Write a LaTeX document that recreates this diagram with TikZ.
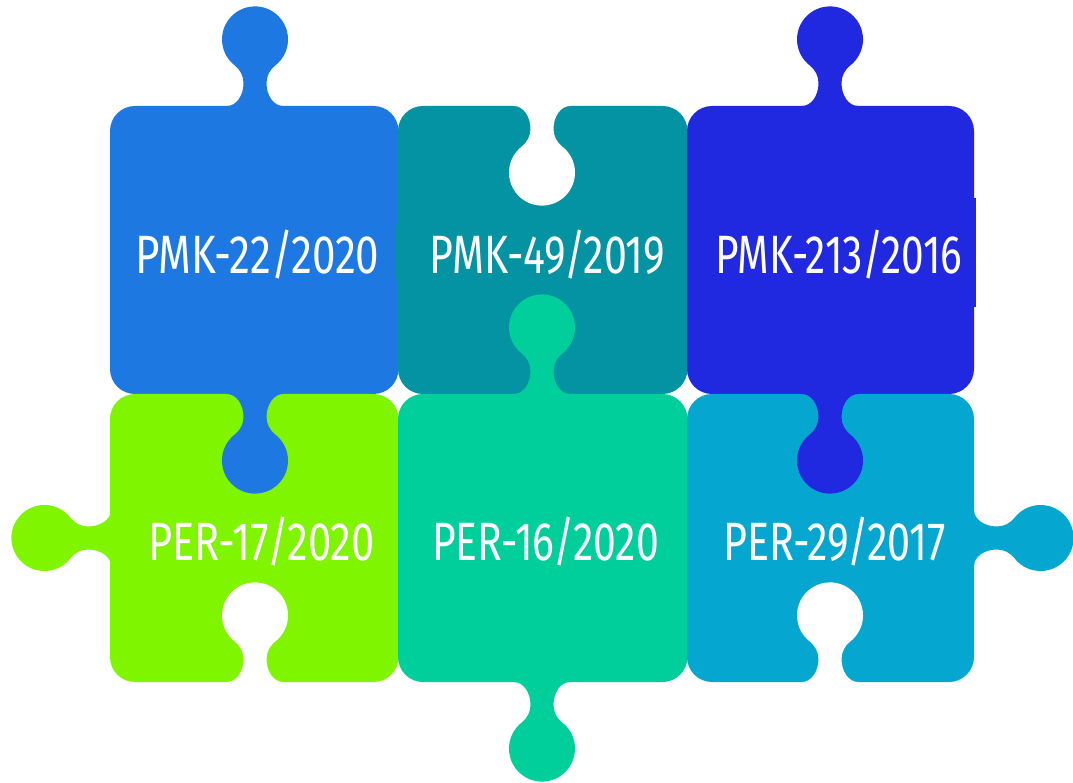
\documentclass[tikz,border=0pt]{standalone}
\usepackage{fontspec}
\setmainfont{Fira Sans}
\definecolor{cblue}{HTML}{1E78E2}
\definecolor{cteal}{HTML}{0393A3}
\definecolor{cnavy}{HTML}{2029E0}
\definecolor{clime}{HTML}{80F500}
\definecolor{cmint}{HTML}{00CE9B}
\definecolor{ccyan}{HTML}{05A7D0}
\newcommand{\puzzletab}[4]{%
  \fill[#4,shift={(#1,#2)},rotate=#3]
    (-29,-1) -- (-28,0) .. controls (-19,0) and (-11.5,10) .. (-11.5,23)
    .. controls (-11.5,30) and (-14.8,36.3) .. (-20.3,40.6)
    arc[start angle=232,end angle=-52,radius=33]
    .. controls (14.8,36.3) and (11.5,30) .. (11.5,23)
    .. controls (11.5,10) and (19,0) .. (28,0) -- (29,-1) -- cycle;}
\tikzset{
  x=1pt,y=1pt,
  piece/.style={rounded corners=25pt},
  label/.style={text=white,anchor=base,inner sep=0pt,font=\fontsize{54}{54}\selectfont,xscale=#1},
}
\begin{document}
\begin{tikzpicture}
\useasboundingbox (0,0) rectangle (1073,782);
% bodies
\fill[cblue,piece] (110,388) rectangle (398.5,676);
\fill[cteal,piece] (398,388) rectangle (687.5,676);
\fill[cnavy,piece] (687,388) rectangle (974,676);
\fill[clime,piece] (110,100) rectangle (398.5,388);
\fill[cmint,piece] (398,100) rectangle (687.5,388);
\fill[ccyan,piece] (687,100) rectangle (974,388);
% patches left behind the labels
\fill[cnavy] (970,475) rectangle (975.5,584);
\fill[cteal] (396,502) rectangle (400,557);
% notches
\puzzletab{542}{676}{180}{white}
\puzzletab{255}{100}{0}{white}
\puzzletab{830}{100}{0}{white}
% tabs
\puzzletab{255}{676}{0}{cblue}
\puzzletab{830}{676}{0}{cnavy}
\puzzletab{255}{388}{180}{cblue}
\puzzletab{830}{388}{180}{cnavy}
\puzzletab{542}{388}{0}{cmint}
\puzzletab{542}{100}{180}{cmint}
\puzzletab{111}{244}{90}{clime}
\puzzletab{974}{244}{-90}{ccyan}
% labels
\node[label=0.78] (a) at (257.5,508.5) {PMK-22/2020};
\node[label=0.76] (b) at (547.5,508.5) {PMK-49/2019};
\node[label=0.752] (c) at (839,508.5) {PMK-213/2016};
\node[label=0.77] (d) at (261.5,221.5) {PER-17/2020};
\node[label=0.757] (e) at (545.5,221.5) {PER-16/2020};
\node[label=0.765] (f) at (834.5,221.5) {PER-29/2017};
\end{tikzpicture}
\end{document}
